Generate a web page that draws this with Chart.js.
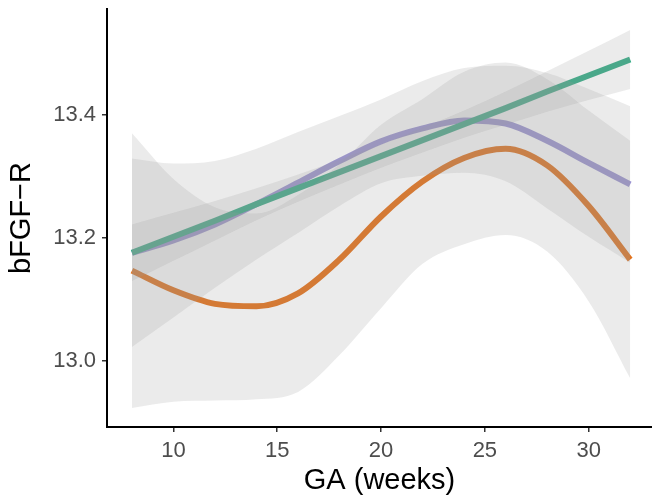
<!DOCTYPE html>
<html>
<head>
<meta charset="utf-8">
<script src="https://cdn.jsdelivr.net/npm/chart.js@4"></script>
<style>
  body { margin: 0; background: #fff; }
  canvas { display: block; }
</style>
</head>
<body>
<canvas id="gaChart" width="652" height="498"></canvas>
<script>
// gestational age sample points (weeks)
const gaWeeks = [8, 10, 12, 14, 16, 18, 20, 22, 24, 26, 28, 30, 32];

// linear fit (green) and its confidence band
const linearFit   = [13.176, 13.202, 13.228, 13.255, 13.281, 13.307, 13.333, 13.359, 13.385, 13.411, 13.438, 13.464, 13.490];
const linearLower = [13.130, 13.163, 13.196, 13.229, 13.259, 13.287, 13.314, 13.339, 13.363, 13.384, 13.405, 13.424, 13.442];
const linearUpper = [13.222, 13.241, 13.260, 13.281, 13.303, 13.327, 13.352, 13.379, 13.407, 13.438, 13.471, 13.504, 13.538];

// orange smooth and its band
const orangeFit   = [13.147, 13.115, 13.093, 13.089, 13.110, 13.165, 13.235, 13.292, 13.330, 13.345, 13.318, 13.252, 13.165];
const orangeLower = [12.924, 12.934, 12.936, 12.938, 12.950, 13.010, 13.086, 13.158, 13.190, 13.205, 13.178, 13.097, 12.972];
const orangeUpper = [13.370, 13.296, 13.250, 13.240, 13.270, 13.320, 13.384, 13.426, 13.470, 13.485, 13.458, 13.407, 13.358];

// purple smooth and its band
const purpleFit   = [13.176, 13.196, 13.222, 13.255, 13.290, 13.325, 13.357, 13.378, 13.391, 13.386, 13.358, 13.322, 13.287];
const purpleLower = [13.023, 13.071, 13.119, 13.165, 13.208, 13.252, 13.289, 13.301, 13.306, 13.292, 13.248, 13.202, 13.160];
const purpleUpper = [13.329, 13.321, 13.325, 13.345, 13.372, 13.398, 13.425, 13.455, 13.476, 13.480, 13.468, 13.442, 13.414];

const xTicks = [10, 15, 20, 25, 30];
const yTicks = [13.0, 13.2, 13.4];

const bandFill = 'rgba(153,153,153,0.2)';
const fontFamily = '"Liberation Sans", Arial, Helvetica, sans-serif';

function toPoints(values) {
    return gaWeeks.map((x, i) => ({ x: x, y: values[i] }));
}

// lines go underneath the grey bands (order 2 is drawn first)
function fitLine(values, color, straight) {
    return {
        data: toPoints(values),
        borderColor: color,
        borderWidth: 6,
        pointRadius: 0,
        fill: false,
        tension: 0,
        cubicInterpolationMode: straight ? 'default' : 'monotone',
        order: 2
    };
}

function bandEdge(values, fillTarget) {
    return {
        data: toPoints(values),
        borderColor: 'transparent',
        borderWidth: 0,
        pointRadius: 0,
        backgroundColor: bandFill,
        fill: fillTarget === undefined ? false : { target: fillTarget },
        cubicInterpolationMode: 'monotone',
        order: 1
    };
}

const datasets = [
    fitLine(linearFit, '#36AC86', true),   // 0
    fitLine(orangeFit, '#E3721C', false),  // 1
    fitLine(purpleFit, '#9C94D3', false),  // 2
    bandEdge(linearUpper, 4),              // 3
    bandEdge(linearLower),                 // 4
    bandEdge(orangeUpper, 6),              // 5
    bandEdge(orangeLower),                 // 6
    bandEdge(purpleUpper, 8),              // 7
    bandEdge(purpleLower)                  // 8
];

const axisGrid = {
    display: true,
    drawOnChartArea: false,
    drawTicks: true,
    tickLength: 5,
    color: '#333333',
    lineWidth: 1.5
};

new Chart(document.getElementById('gaChart').getContext('2d'), {
    type: 'line',
    data: { datasets: datasets },
    options: {
        responsive: false,
        animation: false,
        layout: { padding: { top: 9, right: 0, bottom: 0, left: 0 } },
        plugins: {
            legend: { display: false },
            tooltip: { enabled: false }
        },
        scales: {
            x: {
                type: 'linear',
                min: 6.8,
                max: 33.05,
                afterBuildTicks: (scale) => { scale.ticks = xTicks.map(v => ({ value: v })); },
                afterFit: (scale) => {
                    scale.height = 71;
                    scale.paddingLeft = 0;
                    scale.paddingRight = 0;
                },
                grid: axisGrid,
                border: { display: true, color: '#000000', width: 2 },
                ticks: {
                    color: '#4D4D4D',
                    padding: 6,
                    maxRotation: 0,
                    font: { family: fontFamily, size: 22 },
                    callback: (v) => String(v)
                },
                title: {
                    display: true,
                    text: 'GA (weeks)',
                    color: '#000000',
                    padding: { top: 0, bottom: 0 },
                    font: { family: fontFamily, size: 29 }
                }
            },
            y: {
                type: 'linear',
                min: 12.893,
                max: 13.572,
                afterBuildTicks: (scale) => { scale.ticks = yTicks.map(v => ({ value: v })); },
                afterFit: (scale) => {
                    scale.width = 107;
                    scale.paddingTop = 0;
                    scale.paddingBottom = 0;
                },
                grid: axisGrid,
                border: { display: true, color: '#000000', width: 2 },
                ticks: {
                    color: '#4D4D4D',
                    padding: 6,
                    font: { family: fontFamily, size: 22 },
                    callback: (v) => Number(v).toFixed(1)
                },
                title: {
                    display: true,
                    text: 'bFGF\u2212R',
                    color: '#000000',
                    padding: { top: 5, bottom: 0 },
                    font: { family: fontFamily, size: 29 }
                }
            }
        }
    }
});
</script>
</body>
</html>
